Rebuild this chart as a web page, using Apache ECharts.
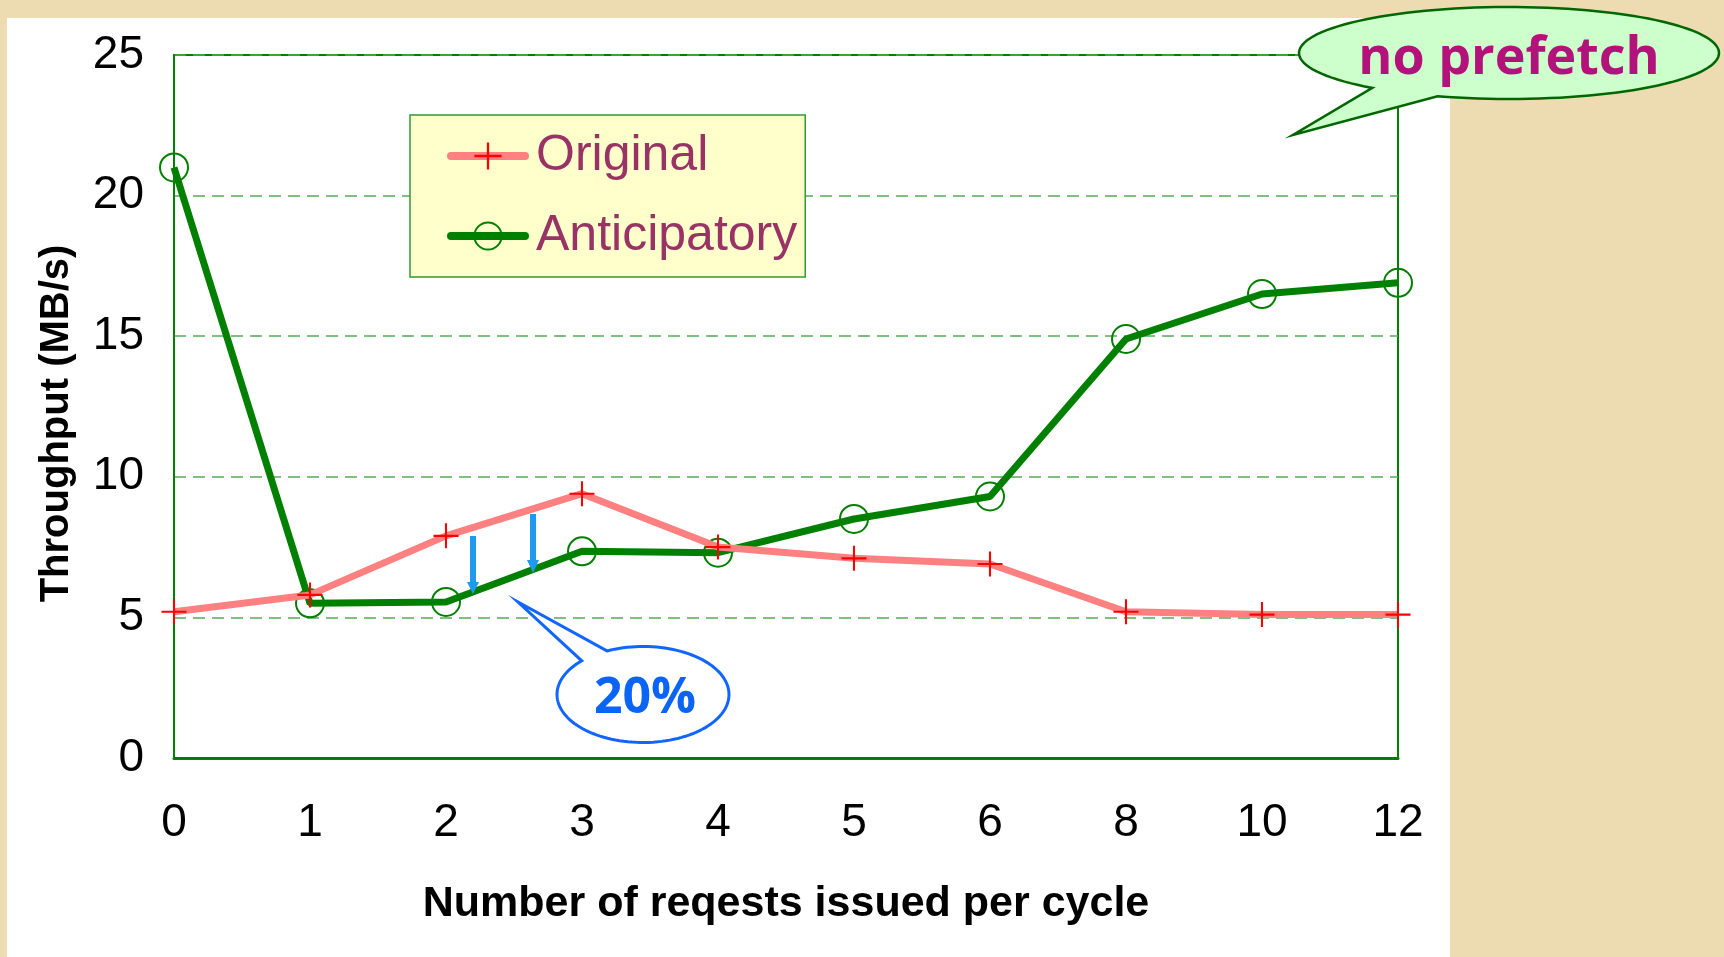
<!DOCTYPE html>
<html>
<head>
<meta charset="utf-8">
<script src="https://cdn.jsdelivr.net/npm/echarts@6/dist/echarts.min.js"></script>
<style>
  html, body { margin: 0; padding: 0; background: #EDDBB2; }
  #main { width: 1724px; height: 957px; }
</style>
</head>
<body>
<div id="main"></div>
<script>
// values
var categories = ['0', '1', '2', '3', '4', '5', '6', '8', '10', '12'];
var original = [5.2, 5.8, 7.9, 9.4, 7.5, 7.1, 6.9, 5.2, 5.1, 5.1];
var anticipatory = [21.0, 5.5, 5.55, 7.35, 7.3, 8.5, 9.3, 14.9, 16.5, 16.9];
var yMin = 0, yMax = 25, yStep = 5;

var narrow = '"Liberation Sans Narrow", "Arial Narrow", "Liberation Sans", sans-serif';
var plus = 'path://M0,11 L24,11 L24,13 L0,13 Z M11,0 L13,0 L13,24 L11,24 Z';

// speech bubble outline: long arc of an ellipse then the tail tip
function bubble(cx, cy, rx, ry, from, to, tip) {
	var pts = [];
	var n = 120;
	for (var i = 0; i <= n; i++) {
		var a = (from + (to - from) * i / n) * Math.PI / 180;
		pts.push([cx + rx * Math.cos(a), cy + ry * Math.sin(a)]);
	}
	pts.push(tip);
	return pts;
}

var myChart = echarts.init(document.getElementById('main'));
var option = {
	backgroundColor: '#EDDBB2',
	animation: false,
	grid: {
		left: 174, right: 326, top: 55, bottom: 199,
		show: true,
		borderColor: '#008000',
		borderWidth: 2
	},
	legend: {
		orient: 'vertical',
		left: 410,
		top: 115,
		itemWidth: 74,
		itemHeight: 34,
		itemGap: 18,
		padding: [10, 8, 10, 37],
		backgroundColor: '#FFFFCC',
		borderColor: '#339933',
		borderWidth: 1.5,
		lineStyle: { width: 8, cap: 'round' },
		textStyle: {
			fontFamily: narrow,
			fontSize: 50,
			lineHeight: 50,
			color: '#993366',
			padding: [12, 0, 0, 6]
		},
		data: ['Original', 'Anticipatory']
	},
	xAxis: {
		type: 'category',
		boundaryGap: false,
		data: categories,
		name: 'Number of reqests issued per cycle',
		nameLocation: 'middle',
		nameGap: 125,
		nameTextStyle: {
			fontFamily: narrow,
			fontWeight: 'bold',
			fontSize: 43,
			color: '#000'
		},
		axisLine: { lineStyle: { color: '#008000', width: 3 } },
		axisTick: { show: false },
		axisLabel: {
			margin: 42,
			fontFamily: narrow,
			fontSize: 46,
			color: '#000'
		},
		splitLine: { show: false }
	},
	yAxis: {
		type: 'value',
		min: yMin,
		max: yMax,
		interval: yStep,
		name: 'Throughput (MB/s)',
		nameLocation: 'middle',
		nameGap: 97,
		nameTextStyle: {
			fontFamily: '"Liberation Sans", Arial, sans-serif',
			fontWeight: 'bold',
			fontSize: 40,
			color: '#000',
			padding: [0, 34, 0, 0]
		},
		axisLine: { show: true, lineStyle: { color: '#008000', width: 2 } },
		axisTick: { show: false },
		axisLabel: {
			margin: 30,
			fontFamily: narrow,
			fontSize: 46,
			color: '#000'
		},
		splitLine: {
			lineStyle: { color: '#55AA55', width: 1.5, type: [12, 7] }
		}
	},
	series: [
		{
			name: 'Original',
			type: 'line',
			data: original,
			symbol: plus,
			symbolSize: 25,
			itemStyle: { color: '#FF0000' },
			lineStyle: { color: '#FF8080', width: 7 },
			z: 3
		},
		{
			name: 'Anticipatory',
			type: 'line',
			data: anticipatory,
			symbol: 'circle',
			symbolSize: 28,
			itemStyle: { color: 'rgba(0,0,0,0)', borderColor: '#008000', borderWidth: 2 },
			lineStyle: { color: '#008000', width: 7 },
			z: 2
		}
	],
	graphic: [
		{
			type: 'rect',
			z: -10,
			shape: { x: 7, y: 18, width: 1443, height: 950 },
			style: { fill: '#FFFFFF' }
		},
		// "no prefetch" callout
		{
			type: 'polygon',
			z: 100,
			shape: { points: bubble(1509, 53, 210, 46, 109.9, -229.4, [1293, 135]) },
			style: { fill: '#CCFFCC', stroke: '#006600', lineWidth: 2.5 }
		},
		{
			type: 'text',
			z: 101,
			x: 1509, y: 59,
			style: {
				text: 'no prefetch',
				fill: '#B3127B',
				font: 'bold 52px "Open Sans", sans-serif',
				align: 'center',
				verticalAlign: 'middle'
			}
		},
		// "20%" callout
		{
			type: 'polygon',
			z: 100,
			shape: { points: bubble(643, 694.5, 86, 48, 245.2, 584.6, [518, 602]) },
			style: { fill: '#FFFFFF', stroke: '#1166FF', lineWidth: 3 }
		},
		{
			type: 'text',
			z: 101,
			x: 645, y: 699,
			style: {
				text: '20%',
				fill: '#0A64F5',
				font: 'bold 50px "Open Sans", sans-serif',
				align: 'center',
				verticalAlign: 'middle'
			}
		},
		// blue arrows
		{
			type: 'line', z: 100,
			shape: { x1: 473, y1: 536, x2: 473, y2: 584 },
			style: { stroke: '#1E9BEF', lineWidth: 6 }
		},
		{
			type: 'polygon', z: 100,
			shape: { points: [[467, 582], [479, 582], [473, 594]] },
			style: { fill: '#1E9BEF' }
		},
		{
			type: 'line', z: 100,
			shape: { x1: 533, y1: 514, x2: 533, y2: 562 },
			style: { stroke: '#1E9BEF', lineWidth: 6 }
		},
		{
			type: 'polygon', z: 100,
			shape: { points: [[527, 560], [539, 560], [533, 573]] },
			style: { fill: '#1E9BEF' }
		}
	]
};
myChart.setOption(option);
</script>
</body>
</html>
